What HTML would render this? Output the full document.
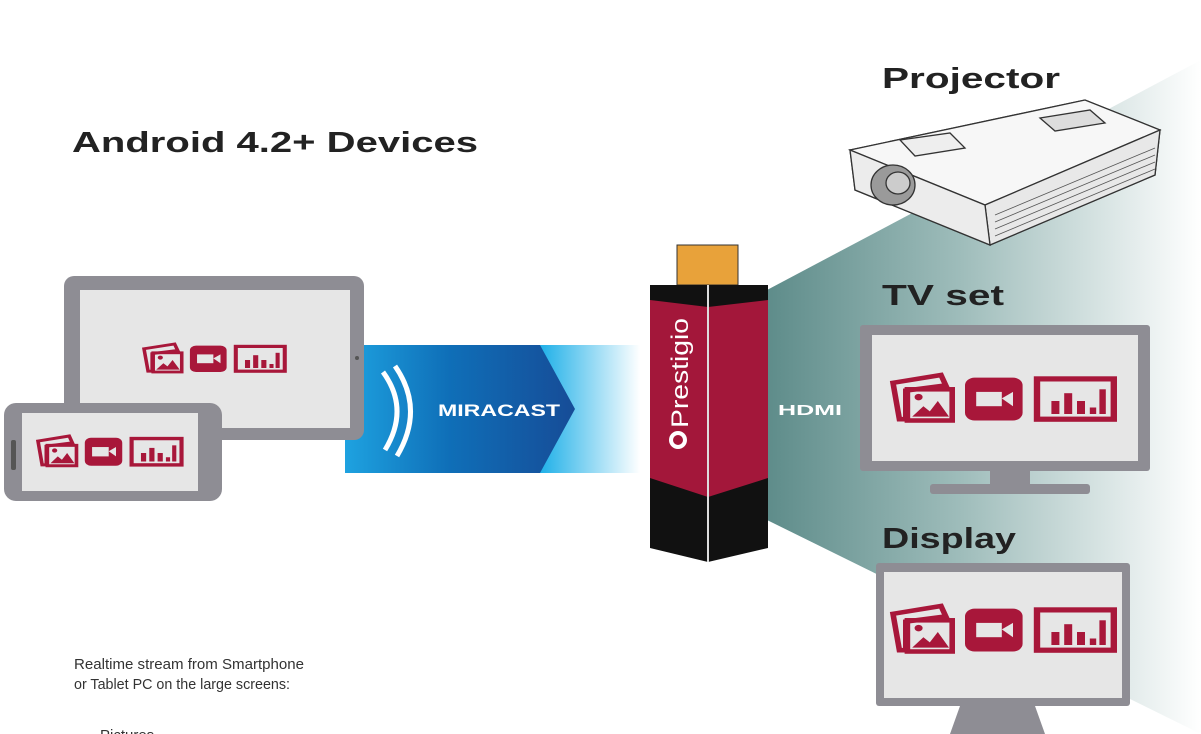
<!DOCTYPE html>
<html><head><meta charset="utf-8"><style>
body{margin:0;background:#fff;}
svg{display:block;}
text{font-family:"Liberation Sans","DejaVu Sans",sans-serif;}
</style></head><body>
<svg width="1201" height="734" viewBox="0 0 1201 734" xmlns="http://www.w3.org/2000/svg">
<defs>
<linearGradient id="teal" x1="0" y1="0" x2="1" y2="0">
<stop offset="0" stop-color="#5e8c8a"/><stop offset="0.45" stop-color="#9fbdbb"/><stop offset="1" stop-color="#ffffff"/>
</linearGradient>
<linearGradient id="blue" x1="0" y1="0" x2="1" y2="0">
<stop offset="0" stop-color="#1ea2e0"/><stop offset="0.35" stop-color="#0f6fb8"/><stop offset="1" stop-color="#1a3a86"/>
</linearGradient>
<linearGradient id="cyan" x1="0" y1="0" x2="1" y2="0">
<stop offset="0" stop-color="#1fb0e8"/><stop offset="1" stop-color="#ffffff"/>
</linearGradient>
<g id="icons">
<path d="M0,6 L30,0 L33,8 L8,12 L8,34 L4,34 Z" fill="none" stroke="#a8173a" stroke-width="3.5"/>
<rect x="9" y="11" width="28" height="24" fill="none" stroke="#a8173a" stroke-width="3.5"/>
<path d="M12,32 L19,24 L23,28 L28,20 L35,32 Z" fill="#a8173a"/><circle cx="16" cy="17" r="2.5" fill="#a8173a"/>
<rect x="45" y="2" width="36" height="33" rx="6" fill="#a8173a"/>
<rect x="52" y="13" width="16" height="11" fill="#e6e6e6"/><path d="M68,18 L75,13 L75,24 Z" fill="#e6e6e6"/>
<rect x="90" y="3" width="48" height="31" fill="none" stroke="#a8173a" stroke-width="4"/>
<rect x="99" y="20" width="5" height="10" fill="#a8173a"/><rect x="107" y="14" width="5" height="16" fill="#a8173a"/><rect x="115" y="20" width="5" height="10" fill="#a8173a"/><rect x="123" y="25" width="4" height="5" fill="#a8173a"/><rect x="129" y="11" width="4" height="19" fill="#a8173a"/>
</g>
</defs>
<rect width="1201" height="734" fill="#fff"/>

<!-- teal projection -->
<polygon points="767,290 1201,60 1201,734 767,520" fill="url(#teal)"/>

<!-- blue band -->
<polygon points="345,345 575,345 640,409 575,473 345,473" fill="url(#blue)"/>
<polygon points="540,345 640,345 640,473 540,473 575,409" fill="url(#cyan)"/>
<path d="M383,372 Q410,409 385,450" fill="none" stroke="#fff" stroke-width="5"/>
<path d="M395,366 Q425,409 397,456" fill="none" stroke="#fff" stroke-width="5"/>
<text x="438" y="416" fill="#fff" font-size="17" font-weight="bold" textLength="122" lengthAdjust="spacingAndGlyphs">MIRACAST</text>

<!-- tablet -->
<rect x="64" y="276" width="300" height="164" rx="10" fill="#8e8d94"/>
<rect x="80" y="290" width="270" height="138" fill="#e6e6e6"/>
<circle cx="357" cy="358" r="2" fill="#555"/>
<use href="#icons" transform="translate(144,344) scale(1.02,0.8)"/>

<!-- phone -->
<rect x="4" y="403" width="218" height="98" rx="12" fill="#8e8d94"/>
<rect x="22" y="413" width="176" height="78" fill="#e6e6e6"/>
<rect x="11" y="440" width="5" height="30" rx="2" fill="#555"/>
<use href="#icons" transform="translate(38,436) scale(1.04,0.85)"/>

<!-- dongle -->
<rect x="677" y="245" width="61" height="40" fill="#e8a23a" stroke="#333" stroke-width="1"/>
<polygon points="650,285 768,285 768,548 708,562 650,548" fill="#111"/>
<polygon points="650,300 708,307 768,300 768,478 708,497 650,478" fill="#a3173a"/>
<line x1="708" y1="285" x2="708" y2="562" stroke="#ddd" stroke-width="2"/>
<text transform="translate(688,428) rotate(-90)" fill="#fff" font-size="24" textLength="110" lengthAdjust="spacingAndGlyphs">Prestigio</text>
<circle cx="678" cy="440" r="9" fill="#fff"/><circle cx="678" cy="440" r="5" fill="#a3173a"/>

<text x="778" y="415" fill="#fff" font-size="15" font-weight="bold" textLength="64" lengthAdjust="spacingAndGlyphs">HDMI</text>

<!-- projector -->
<g stroke="#333" stroke-width="1.3" fill="#f2f2f2">
<polygon points="850,150 1085,100 1160,130 1155,175 990,245 855,190"/>
<polygon points="850,150 1085,100 1160,130 985,205" fill="#f7f7f7"/>
<polygon points="985,205 1160,130 1155,175 990,245" fill="#e8e8e8"/>
<polygon points="850,150 985,205 990,245 855,190" fill="#ececec"/>
<ellipse cx="893" cy="185" rx="22" ry="20" fill="#9a9a9a"/>
<ellipse cx="898" cy="183" rx="12" ry="11" fill="#ccc"/>
<polygon points="900,140 950,133 965,148 915,156" fill="#eee"/>
<polygon points="1040,118 1090,110 1105,123 1055,131" fill="#ddd"/>
</g>
<g stroke="#555" stroke-width="0.8">
<line x1="995" y1="215" x2="1155" y2="148"/><line x1="995" y1="222" x2="1155" y2="155"/><line x1="995" y1="229" x2="1155" y2="162"/><line x1="995" y1="236" x2="1155" y2="169"/>
</g>
<text x="882" y="88" fill="#222" font-size="29" font-weight="bold" textLength="178" lengthAdjust="spacingAndGlyphs">Projector</text>

<!-- TV -->
<text x="882" y="305" fill="#222" font-size="29" font-weight="bold" textLength="122" lengthAdjust="spacingAndGlyphs">TV set</text>
<rect x="860" y="325" width="290" height="146" rx="3" fill="#8e8d94"/>
<rect x="872" y="335" width="266" height="126" fill="#e6e6e6"/>
<rect x="990" y="471" width="40" height="14" fill="#8e8d94"/>
<rect x="930" y="484" width="160" height="10" rx="3" fill="#8e8d94"/>
<use href="#icons" transform="translate(893,375) scale(1.6,1.3)"/>

<!-- Display -->
<text x="882" y="548" fill="#222" font-size="29" font-weight="bold" textLength="134" lengthAdjust="spacingAndGlyphs">Display</text>
<rect x="876" y="563" width="254" height="143" rx="3" fill="#8e8d94"/>
<rect x="884" y="572" width="238" height="126" fill="#e6e6e6"/>
<polygon points="960,706 1035,706 1045,734 950,734" fill="#8e8d94"/>
<use href="#icons" transform="translate(893,606) scale(1.6,1.3)"/>

<text x="72" y="152" fill="#222" font-size="29" font-weight="bold" textLength="406" lengthAdjust="spacingAndGlyphs">Android 4.2+ Devices</text>
<text x="74" y="669" fill="#333" font-size="15" textLength="230" lengthAdjust="spacingAndGlyphs">Realtime stream from Smartphone</text>
<text x="74" y="689" fill="#333" font-size="15" textLength="216" lengthAdjust="spacingAndGlyphs">or Tablet PC on the large screens:</text>
<text x="100" y="740" fill="#333" font-size="15">Pictures</text>
</svg>
</body></html>
